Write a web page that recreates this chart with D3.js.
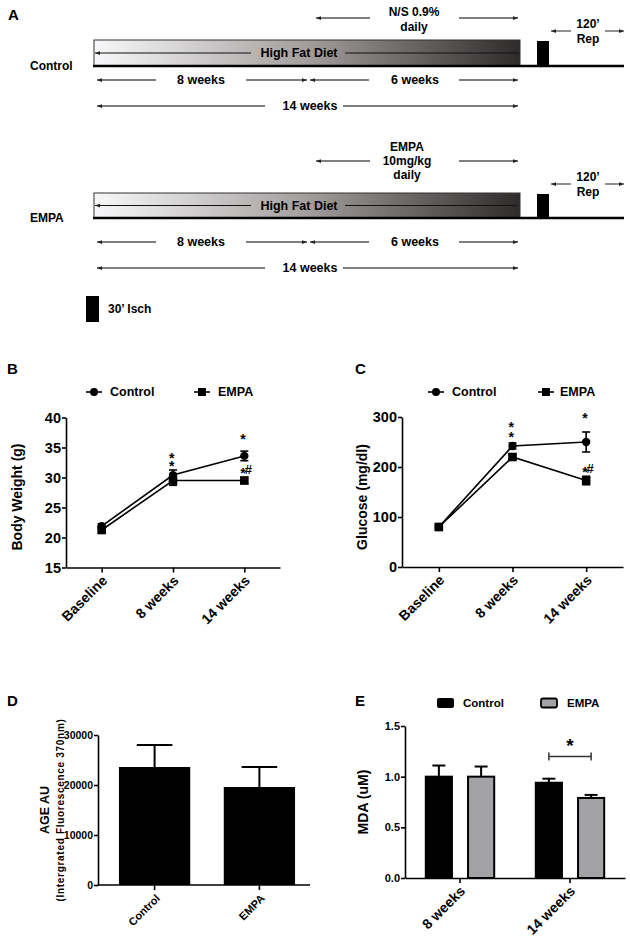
<!DOCTYPE html>
<html><head><meta charset="utf-8">
<script src="https://cdn.jsdelivr.net/npm/d3@7"></script>
<style>
body{margin:0;background:#fff}
svg{display:block;background:#fff}
text{font-family:"Liberation Sans",Arial,Helvetica,sans-serif;font-weight:bold;fill:#000}
</style>
</head><body><script>
// ---------- DATA ----------
const timepoints = ["Baseline", "8 weeks", "14 weeks"];
const bwTicks = [15, 20, 25, 30, 35, 40];
const bwControl = [21.9, 30.4, 33.6];
const bwControlErr = [0.4, 0.85, 0.8];
const bwEmpa = [21.25, 29.5, 29.5];
const bwEmpaErr = [0.4, 0.8, 0.5];
const bwStars = [
  {t: "8 weeks", marks: ["*", "*"], v: [33.75, 32.4]},
  {t: "14 weeks", marks: ["*"], v: [36.9]},
  {t: "14 weeks", marks: ["*#"], v: [31.3]}
];

const gluTicks = [0, 100, 200, 300];
const gluControl = [80, 242, 250];
const gluControlErr = [4, 6, 20];
const gluEmpa = [80, 220, 173];
const gluEmpaErr = [4, 5, 8.5];
const gluStars = [
  {t: "8 weeks", marks: ["*", "*"], v: [286, 266]},
  {t: "14 weeks", marks: ["*"], v: [304]},
  {t: "14 weeks", marks: ["*#"], v: [196]}
];

const ageGroups = ["Control", "EMPA"];
const ageTicks = [0, 10000, 20000, 30000];
const ageValues = [23600, 19600];
const ageErr = [4400, 4000];

const mdaGroups = ["8 weeks", "14 weeks"];
const mdaSeries = ["Control", "EMPA"];
const mdaTicks = [0, 0.5, 1.0, 1.5];
const mdaControl = [1.00, 0.94];
const mdaControlErr = [0.11, 0.04];
const mdaEmpa = [1.00, 0.79];
const mdaEmpaErr = [0.10, 0.03];
const mdaSig = {group: "14 weeks", v: 1.2, text: "*"};

// ---------- SETUP ----------
const FONT = '"Liberation Sans",Arial,sans-serif';
const svg = d3.select("body").append("svg").attr("width", 630).attr("height", 947);
svg.append("rect").attr("width", 630).attr("height", 947).attr("fill", "#fff");
const defs = svg.append("defs");
const grad = defs.append("linearGradient").attr("id", "hfd").attr("x1", "0%").attr("x2", "100%").attr("y1", "0%").attr("y2", "0%");
grad.append("stop").attr("offset", "0%").attr("stop-color", "#f8f8fa");
grad.append("stop").attr("offset", "50%").attr("stop-color", "#a39e9d");
grad.append("stop").attr("offset", "100%").attr("stop-color", "#2f2b2b");
defs.append("marker").attr("id", "ah").attr("viewBox", "0 0 8 6").attr("refX", 8).attr("refY", 3)
  .attr("markerWidth", 5).attr("markerHeight", 4).attr("markerUnits", "userSpaceOnUse")
  .attr("orient", "auto-start-reverse")
  .append("path").attr("d", "M0,0L8,3L0,6z").attr("fill", "#222");

function txt(g, x, y, s, size, anchor) {
  return g.append("text").attr("x", x).attr("y", y).attr("dy", "0.35em")
    .attr("text-anchor", anchor || "middle").style("font-size", size + "px").text(s);
}
function arrow(g, x1, y, x2, color, w) {
  g.append("line").attr("x1", x1).attr("x2", x2).attr("y1", y).attr("y2", y)
    .attr("stroke", color || "#555").attr("stroke-width", w || 1.3).attr("marker-end", "url(#ah)");
}

// ---------- PANEL A ----------
const A = svg.append("g");
A.append("text").attr("x", 8).attr("y", 20).style("font-size", "15px").text("A");

function timeline(cfg) {
  const g = A.append("g");
  cfg.treat.forEach((s, i) => txt(g, cfg.treatX, cfg.treatY[i], s, 12));
  arrow(g, 370, cfg.treatArrowY, 316);
  arrow(g, 459, cfg.treatArrowY, 518);
  g.append("rect").attr("x", 94).attr("y", cfg.top).attr("width", 426).attr("height", cfg.bot - cfg.top)
    .attr("fill", "url(#hfd)").attr("stroke", "#333").attr("stroke-width", 1);
  g.append("line").attr("x1", 93).attr("x2", 624).attr("y1", cfg.bot).attr("y2", cfg.bot)
    .attr("stroke", "#000").attr("stroke-width", 2.5);
  const my = (cfg.top + cfg.bot) / 2;
  arrow(g, 251, my, 95, "#111", 1);
  arrow(g, 345, my, 519, "#111", 1);
  txt(g, 299, my, "High Fat Diet", 12.5);
  g.append("rect").attr("x", 537).attr("y", cfg.top + 1).attr("width", 12).attr("height", cfg.bot - cfg.top - 1).attr("fill", "#000");
  txt(g, 588, cfg.repY[0], "120\u2019", 12);
  txt(g, 588, cfg.repY[1], "Rep", 12);
  arrow(g, 571, cfg.repArrowY, 551);
  arrow(g, 605, cfg.repArrowY, 624);
  txt(g, 30, cfg.bot, cfg.label, 12, "start");
  arrow(g, 156, cfg.row1, 97); arrow(g, 246, cfg.row1, 307);
  txt(g, 201, cfg.row1, "8 weeks", 12.5);
  arrow(g, 369, cfg.row1, 310); arrow(g, 459, cfg.row1, 518);
  txt(g, 415, cfg.row1, "6 weeks", 12.5);
  arrow(g, 265, cfg.row2, 97); arrow(g, 343, cfg.row2, 518);
  txt(g, 310, cfg.row2, "14 weeks", 12.5);
}
timeline({treat: ["N/S 0.9%", "daily"], treatX: 414, treatY: [12, 27], treatArrowY: 18,
  top: 40, bot: 66, repY: [24, 39], repArrowY: 31, label: "Control", row1: 80, row2: 106});
timeline({treat: ["EMPA", "10mg/kg", "daily"], treatX: 407, treatY: [147, 161, 175], treatArrowY: 161,
  top: 193, bot: 218, repY: [177, 192], repArrowY: 184, label: "EMPA", row1: 242, row2: 268});
A.append("rect").attr("x", 86).attr("y", 296).attr("width", 13).attr("height", 26).attr("fill", "#000");
txt(A, 108, 309, "30\u2019 Isch", 12, "start");

// ---------- helpers for axes ----------
function styleAxis(g, fs) {
  g.selectAll(".domain").attr("stroke", "#000").attr("stroke-width", 1.6);
  g.selectAll(".tick line").attr("stroke", "#000").attr("stroke-width", 1.6);
  g.selectAll("text").style("font-family", FONT).style("font-weight", "bold").style("font-size", fs + "px").attr("fill", "#000");
}
function rotateLabels(g, fs) {
  g.selectAll(".tick text").attr("text-anchor", "end").attr("dy", 0).attr("y", 0)
    .attr("transform", "translate(6,14) rotate(-45)").style("font-size", fs + "px");
}

// ---------- LINE CHARTS (B, C) ----------
function lineChart(c) {
  const g = svg.append("g");
  g.append("text").attr("x", c.labelX).attr("y", 374).style("font-size", "15px").text(c.label);
  const x = d3.scalePoint().domain(timepoints).range(c.xRange).padding(0.5);
  const y = d3.scaleLinear().domain([c.ticks[0], c.ticks[c.ticks.length - 1]]).range(c.yRange);
  const ya = g.append("g").attr("transform", `translate(${c.xRange[0]},0)`)
    .call(d3.axisLeft(y).tickValues(c.ticks).tickSize(4).tickSizeOuter(0).tickPadding(1));
  styleAxis(ya, 14.5);
  const xa = g.append("g").attr("transform", `translate(0,${c.yRange[0]})`)
    .call(d3.axisBottom(x).tickSize(5).tickSizeOuter(0));
  styleAxis(xa, 14);
  rotateLabels(xa, 14);
  g.append("text").attr("transform", `translate(${c.titleX},497) rotate(-90)`).attr("text-anchor", "middle")
    .attr("dy", "0.35em").style("font-size", "14px").text(c.title);
  const line = d3.line().x(d => x(d.t)).y(d => y(d.v));
  const series = [
    {vals: c.ctrl, err: c.ctrlErr, shape: "circle"},
    {vals: c.empa, err: c.empaErr, shape: "square"}
  ];
  series.forEach(s => {
    const pts = timepoints.map((t, i) => ({t, v: s.vals[i], e: s.err[i]}));
    g.append("path").datum(pts).attr("d", line).attr("fill", "none").attr("stroke", "#000").attr("stroke-width", 1.6);
    pts.forEach(p => {
      const cx = x(p.t);
      g.append("line").attr("x1", cx).attr("x2", cx).attr("y1", y(p.v - p.e)).attr("y2", y(p.v + p.e)).attr("stroke", "#000").attr("stroke-width", 1.6);
      [p.v - p.e, p.v + p.e].forEach(v => g.append("line").attr("x1", cx - 4).attr("x2", cx + 4).attr("y1", y(v)).attr("y2", y(v)).attr("stroke", "#000").attr("stroke-width", 1.6));
      if (s.shape === "circle") g.append("circle").attr("cx", cx).attr("cy", y(p.v)).attr("r", 4.2).attr("fill", "#000");
      else g.append("rect").attr("x", cx - 4.3).attr("y", y(p.v) - 4.3).attr("width", 8.6).attr("height", 8.6).attr("fill", "#000");
    });
  });
  // significance marks (stacked marks share one text element)
  c.stars.forEach(s => {
    const cx = x(s.t);
    const t = g.append("text").attr("text-anchor", "start").style("font-size", "14px");
    s.marks.forEach((m, i) => {
      const yy = y(s.v[i]) + 8;
      t.append("tspan").attr("x", cx - 4).attr("y", yy).text("*");
      if (m.length > 1) t.append("tspan").attr("dx", -1).attr("y", yy - 4).style("font-size", "13px").text(m.slice(1));
    });
  });
  const L = c.legend;
  g.append("line").attr("x1", L.c0).attr("x2", L.c0 + 16).attr("y1", 392).attr("y2", 392).attr("stroke", "#000").attr("stroke-width", 1.6);
  g.append("circle").attr("cx", L.c0 + 8).attr("cy", 392).attr("r", 4).attr("fill", "#000");
  txt(g, L.c0 + 24, 392, "Control", 12.5, "start");
  g.append("line").attr("x1", L.e0).attr("x2", L.e0 + 16).attr("y1", 392).attr("y2", 392).attr("stroke", "#000").attr("stroke-width", 1.6);
  g.append("rect").attr("x", L.e0 + 4).attr("y", 388).attr("width", 8).attr("height", 8).attr("fill", "#000");
  txt(g, L.e0 + L.eGap, 392, "EMPA", 12.5, "start");
}
lineChart({label: "B", labelX: 7, xRange: [66, 280], yRange: [567.5, 417.5], ticks: bwTicks,
  ctrl: bwControl, ctrlErr: bwControlErr, empa: bwEmpa, empaErr: bwEmpaErr, stars: bwStars,
  title: "Body Weight (g)", titleX: 17, legend: {c0: 86, e0: 194, eGap: 24}});
lineChart({label: "C", labelX: 355, xRange: [402, 623], yRange: [567, 417], ticks: gluTicks,
  ctrl: gluControl, ctrlErr: gluControlErr, empa: gluEmpa, empaErr: gluEmpaErr, stars: gluStars,
  title: "Glucose (mg/dl)", titleX: 362, legend: {c0: 428, e0: 538, eGap: 22}});

// ---------- PANEL D ----------
(function () {
  const g = svg.append("g");
  g.append("text").attr("x", 7).attr("y", 706).style("font-size", "15px").text("D");
  const x = d3.scaleBand().domain(ageGroups).range([98, 316]).paddingInner(0.32).paddingOuter(0.2);
  const y = d3.scaleLinear().domain([0, 30000]).range([885, 735]);
  const ya = g.append("g").attr("transform", "translate(98,0)")
    .call(d3.axisLeft(y).tickValues(ageTicks).tickSize(4).tickSizeOuter(0).tickPadding(1).tickFormat(d3.format("d")));
  styleAxis(ya, 10.5);
  ageGroups.forEach((k, i) => {
    const cx = x(k) + x.bandwidth() / 2;
    g.append("line").attr("x1", cx).attr("x2", cx).attr("y1", y(ageValues[i])).attr("y2", y(ageValues[i] + ageErr[i])).attr("stroke", "#000").attr("stroke-width", 2);
    g.append("line").attr("x1", cx - x.bandwidth() / 4).attr("x2", cx + x.bandwidth() / 4).attr("y1", y(ageValues[i] + ageErr[i])).attr("y2", y(ageValues[i] + ageErr[i])).attr("stroke", "#000").attr("stroke-width", 2);
    g.append("rect").attr("x", x(k)).attr("y", y(ageValues[i])).attr("width", x.bandwidth()).attr("height", y(0) - y(ageValues[i])).attr("fill", "#000");
  });
  const xa = g.append("g").attr("transform", "translate(0,885)").call(d3.axisBottom(x).tickSize(5).tickSizeOuter(0));
  styleAxis(xa, 11);
  xa.select(".domain").attr("d", "M98,0H310");
  rotateLabels(xa, 11);
  g.append("text").attr("transform", "translate(45,810) rotate(-90)").attr("text-anchor", "middle").attr("dy", "0.35em")
    .style("font-size", "12.5px").text("AGE AU");
  g.append("text").attr("transform", "translate(60,810) rotate(-90)").attr("text-anchor", "middle").attr("dy", "0.35em")
    .style("font-size", "10px").style("letter-spacing", "0.7px").text("(Intergrated Fluorescence 370nm)");
})();

// ---------- PANEL E ----------
(function () {
  const g = svg.append("g");
  g.append("text").attr("x", 355).attr("y", 706).style("font-size", "15px").text("E");
  const x0 = d3.scaleBand().domain(mdaGroups).range([405, 625]).paddingInner(0.36).paddingOuter(0.18);
  const x1 = d3.scaleBand().domain(mdaSeries).range([0, x0.bandwidth()]).paddingInner(1 / 3);
  const y = d3.scaleLinear().domain([0, 1.5]).range([878, 726]);
  const ya = g.append("g").attr("transform", "translate(405,0)")
    .call(d3.axisLeft(y).tickValues(mdaTicks).tickSize(4).tickSizeOuter(0).tickPadding(1).tickFormat(d3.format(".1f")));
  styleAxis(ya, 11);
  const vals = {Control: mdaControl, EMPA: mdaEmpa};
  const errs = {Control: mdaControlErr, EMPA: mdaEmpaErr};
  const fills = {Control: "#000", EMPA: "#a3a3a7"};
  mdaGroups.forEach((grp, gi) => {
    mdaSeries.forEach(s => {
      const bx = x0(grp) + x1(s), bw = x1.bandwidth(), v = vals[s][gi], e = errs[s][gi];
      const cx = bx + bw / 2;
      g.append("line").attr("x1", cx).attr("x2", cx).attr("y1", y(v)).attr("y2", y(v + e)).attr("stroke", "#000").attr("stroke-width", 2);
      g.append("line").attr("x1", cx - 6.5).attr("x2", cx + 6.5).attr("y1", y(v + e)).attr("y2", y(v + e)).attr("stroke", "#000").attr("stroke-width", 2);
      g.append("rect").attr("x", bx + 1).attr("y", y(v)).attr("width", bw - 2).attr("height", y(0) - y(v))
        .attr("fill", fills[s]).attr("stroke", "#000").attr("stroke-width", 2);
    });
  });
  const xa = g.append("g").attr("transform", "translate(0,878)").call(d3.axisBottom(x0).tickSize(5).tickSizeOuter(0));
  styleAxis(xa, 14);
  rotateLabels(xa, 14);
  g.append("text").attr("transform", "translate(363,802) rotate(-90)").attr("text-anchor", "middle").attr("dy", "0.35em")
    .style("font-size", "14px").text("MDA (uM)");
  const bxa = x0(mdaSig.group) + x1("Control") + x1.bandwidth() / 2;
  const bxb = x0(mdaSig.group) + x1("EMPA") + x1.bandwidth() / 2;
  const by = y(mdaSig.v);
  g.append("path").attr("d", `M${bxa},${by - 4}V${by + 4}M${bxa},${by}H${bxb}M${bxb},${by - 4}V${by + 4}`)
    .attr("fill", "none").attr("stroke", "#333").attr("stroke-width", 1.5);
  g.append("text").attr("x", (bxa + bxb) / 2).attr("y", by - 4).attr("text-anchor", "middle").style("font-size", "19px").text(mdaSig.text);
  g.append("rect").attr("x", 437).attr("y", 698).attr("width", 17).attr("height", 10).attr("rx", 2).attr("fill", "#000");
  txt(g, 463, 703, "Control", 11.5, "start");
  g.append("rect").attr("x", 541).attr("y", 698.5).attr("width", 16).attr("height", 9).attr("rx", 2).attr("fill", "#a3a3a7").attr("stroke", "#000").attr("stroke-width", 1.8);
  txt(g, 567, 703, "EMPA", 11.5, "start");
})();
</script></body></html>
